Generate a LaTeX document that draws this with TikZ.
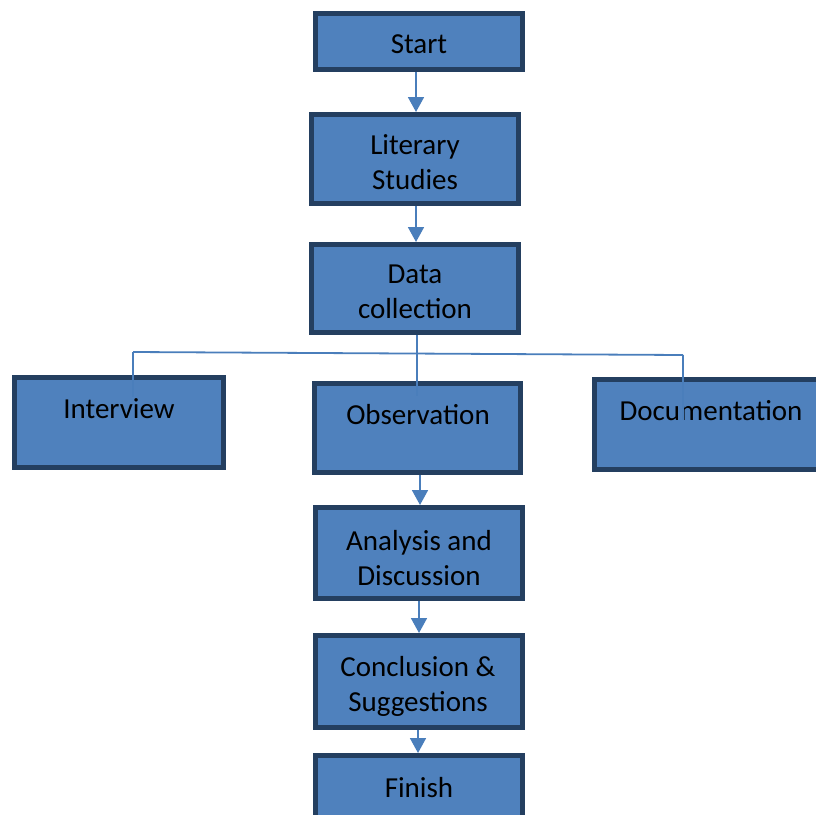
\documentclass[tikz,border=0pt]{standalone}
\usepackage{fontspec}
\setmainfont{Carlito}
\usetikzlibrary{arrows.meta}
\definecolor{boxfill}{HTML}{4F81BD}
\definecolor{boxedge}{HTML}{243F60}
\definecolor{linkc}{HTML}{4A7EBB}
\begin{document}
\begin{tikzpicture}[x=1pt,y=-1pt,
  box/.style={draw=boxedge, fill=boxfill, line width=5pt, rectangle, inner sep=0pt},
  txt/.style={font=\fontsize{29}{35}\selectfont, text=black, align=center, inner sep=0pt},
  link/.style={draw=linkc, line width=1.8pt},
  arr/.style={link, -{Triangle[width=16pt,length=15pt]}}]
\clip (0,0) rectangle (816,814);
% boxes
\node[box, minimum width=207pt, minimum height=56pt] (start) at (419,41.5) {};
\node[box, minimum width=207pt, minimum height=89pt] (lit) at (415,159) {};
\node[box, minimum width=207pt, minimum height=88pt] (data) at (415,288.5) {};
\node[box, minimum width=209pt, minimum height=90pt] (int) at (119,422.5) {};
\node[box, minimum width=206pt, minimum height=89pt] (obs) at (417.5,428) {};
\node[box, minimum width=233pt, minimum height=90pt] (doc) at (711,424.5) {};
\node[box, minimum width=207pt, minimum height=91pt] (ana) at (419,553) {};
\node[box, minimum width=207pt, minimum height=92pt] (con) at (419,681.5) {};
\node[box, minimum width=207pt, minimum height=65pt] (fin) at (419,788) {};
% texts
\node[txt] (startt) at (419,44) {Start};
\node[txt] (litt) at (415,162) {Literary\\Studies};
\node[txt] (datat) at (415,292) {Data\\collection};
\node[txt] (intt) at (119,409) {Interview};
\node[txt] (obst) at (418,415) {Observation};
\node[txt] (doct) at (711,411) {Documentation};
\node[txt] (anat) at (419,558) {Analysis and\\Discussion};
\node[txt] (cont) at (418,686) {Conclusion \&\\Suggestions};
\node[txt] (fint) at (419,788) {Finish};
% connectors
\draw[arr] (start.south -| 416,0) -- (lit.north -| 416,0);
\draw[arr] (lit.south -| 416,0) -- (data.north -| 416,0);
\coordinate (busl) at (133,352);
\coordinate (busm) at (417,353.5);
\coordinate (busr) at (683,355);
\coordinate (inte) at (133,397);
\coordinate (obse) at (417,396);
\coordinate (doce) at (683,420);
\draw[link] (data.south -| busm) -- (obse);
\draw[link] (busl) -- (busr);
\draw[link] (busl) -- (inte);
\draw[link] (busr) -- (doce);
\draw[arr] (obs.south -| 420,0) -- (ana.north -| 420,0);
\draw[arr] (ana.south -| 419,0) -- (con.north -| 419,0);
\draw[arr] (con.south -| 418,0) -- (fin.north -| 418,0);
\end{tikzpicture}
\end{document}
